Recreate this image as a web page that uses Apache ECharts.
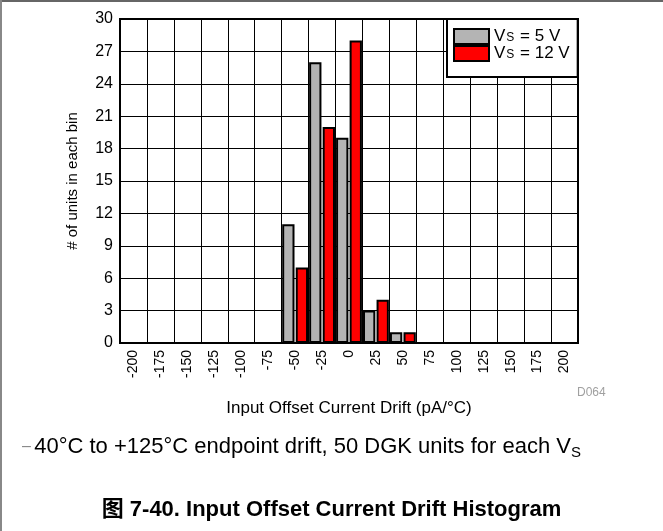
<!DOCTYPE html>
<html>
<head>
<meta charset="utf-8">
<script src="https://cdn.jsdelivr.net/npm/echarts@6/dist/echarts.min.js"></script>
<style>
html,body{margin:0;padding:0;background:#fff;}
#c{width:663px;height:531px;}
</style>
</head>
<body>
<div id="c"></div>
<script>
var categories = ['-200','-175','-150','-125','-100','-75','-50','-25','0','25','50','75','100','125','150','175','200'];
var vs5 = [0,0,0,0,0,0,11,26,19,3,1,0,0,0,0,0,0];
var vs12 = [0,0,0,0,0,0,7,20,28,4,1,0,0,0,0,0,0];
var yTicks = {min:0, max:30, interval:3};
var seriesNames = ['VS = 5 V','VS = 12 V'];

var FONT = '"Liberation Sans", Arial, "Noto Sans CJK SC", sans-serif';
var chart = echarts.init(document.getElementById('c'));
chart.setOption({
  animation:false,
  backgroundColor:'#fff',
  textStyle:{fontFamily:FONT},
  grid:{left:120, top:19, width:458, height:324, show:true, borderColor:'#000', borderWidth:2, backgroundColor:'transparent'},
  legend:{
    orient:'vertical', left:447, top:19, padding:[9,8,15,6], itemGap:0,
    icon:'rect', itemWidth:35, itemHeight:15, borderColor:'#000', borderWidth:2, backgroundColor:'#fff',
    data:seriesNames,
    formatter:function(n){ return n===seriesNames[0] ? '{a|V}{s|S}{a| = 5 V}' : '{a|V}{s|S}{a| = 12 V}'; },
    textStyle:{fontFamily:FONT, color:'#000', rich:{
      a:{fontSize:17, lineHeight:15, fontFamily:FONT, color:'#000'},
      s:{fontSize:12, lineHeight:10, verticalAlign:'bottom', fontFamily:FONT, color:'#000', padding:[0,1,0,1]}
    }}
  },
  xAxis:{
    type:'category', data:categories, boundaryGap:true,
    name:'Input Offset Current Drift (pA/°C)', nameLocation:'middle', nameGap:57,
    nameTextStyle:{fontSize:17, color:'#000', fontFamily:FONT, verticalAlign:'top'},
    axisLine:{lineStyle:{color:'#000', width:2}},
    axisTick:{show:false},
    axisLabel:{rotate:90, interval:0, fontSize:14, color:'#000', margin:7, fontFamily:FONT},
    splitLine:{show:true, interval:0, lineStyle:{color:'#000', width:1}}
  },
  yAxis:{
    type:'value', min:yTicks.min, max:yTicks.max, interval:yTicks.interval,
    name:'# of units in each bin', nameLocation:'middle', nameGap:40,
    nameTextStyle:{fontSize:15, color:'#000', fontFamily:FONT},
    axisLine:{show:true, lineStyle:{color:'#000', width:2}},
    axisTick:{show:false},
    axisLabel:{fontSize:16, color:'#000', margin:7, fontFamily:FONT},
    splitLine:{show:true, lineStyle:{color:'#000', width:1}}
  },
  series:[
    {name:seriesNames[0], type:'bar', data:vs5, barGap:'10%', barCategoryGap:'4%',
     itemStyle:{color:'#b4b4b4', borderColor:'#000', borderWidth:2}},
    {name:seriesNames[1], type:'bar', data:vs12,
     itemStyle:{color:'#ff0000', borderColor:'#000', borderWidth:2}}
  ],
  graphic:[
    {type:'rect', shape:{x:0, y:0, width:663, height:2}, style:{fill:'#666'}, silent:true},
    {type:'rect', shape:{x:0, y:0, width:2, height:531}, style:{fill:'#888'}, silent:true},
    {type:'text', left:577, top:387, style:{text:'D064', fontSize:12, fill:'#a0a0a0', fontFamily:FONT}},
    {type:'text', left:22, top:436, style:{
      text:'{d|–} {a|40°C to +125°C endpoint drift, 50 DGK units for each V}{s|S}',
      fontFamily:FONT,
      rich:{
        d:{fontSize:16, fill:'#888', fontFamily:FONT, lineHeight:26},
        a:{fontSize:22, fill:'#000', fontFamily:FONT, lineHeight:26},
        s:{fontSize:15, fill:'#000', fontFamily:FONT, lineHeight:18, verticalAlign:'bottom'}
      }}},
    {type:'text', left:'center', top:499, style:{
      text:'图 7-40. Input Offset Current Drift Histogram',
      fontSize:22, fontWeight:'bold', fill:'#000', fontFamily:FONT}}
  ]
});
</script>
</body>
</html>
